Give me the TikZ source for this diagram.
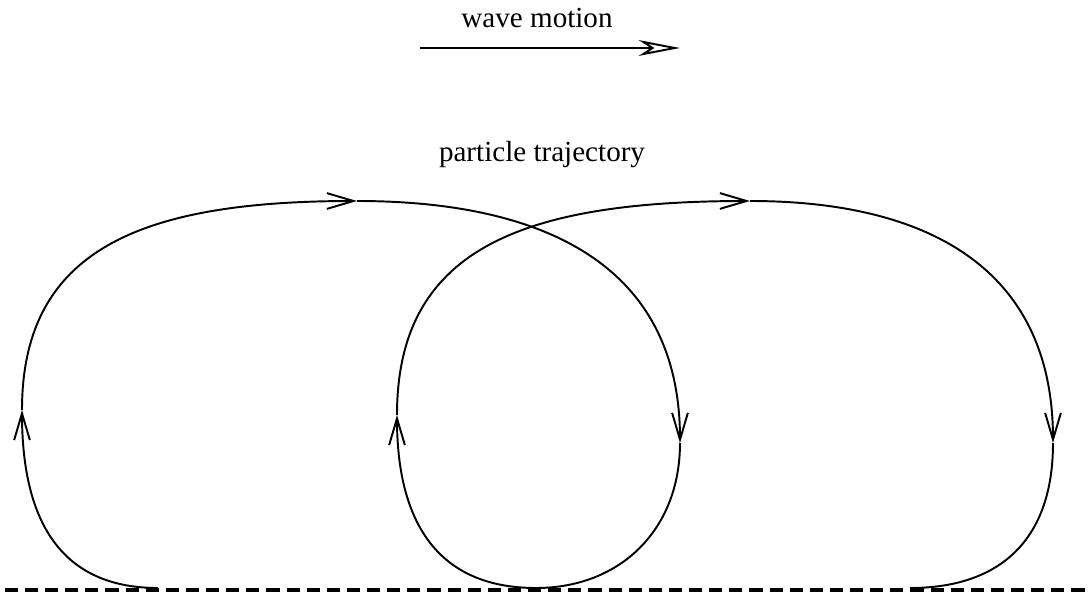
\documentclass[tikz,border=0pt]{standalone}
\usepackage{fontspec}
\setmainfont{Liberation Serif}
\usetikzlibrary{arrows.meta}

\begin{document}
\begin{tikzpicture}[x=0.0145cm,y=-0.0145cm,
  traj/.style={line width=0.8pt},
  trajarrow/.style={traj,-{Straight Barb[length=11pt,width=6.5pt]}},
  ground/.style={line width=1.6pt,dash pattern=on 5.4pt off 2.9pt,dash phase=-2pt},
  lbl/.style={font=\large,inner sep=0pt}]
\path[use as bounding box] (0,0) rectangle (1091,597);
% still water level
\coordinate (gl) at (0,590);
\coordinate (gr) at (1091,590);
\draw[ground] (gl) -- (gr);
% direction of the wave
\node[lbl,anchor=base] (wave) at (537,27) {wave motion};
\coordinate (wstart) at (420,48);
\coordinate (wend) at (680,48);
\draw[line width=1.2pt,-{Stealth[open,length=17pt,width=6.5pt,inset=5pt,line width=0.8pt]}] (wstart) -- (wend);
\node[lbl,anchor=base] (trajtext) at (542,162) {particle trajectory};
% first loop
\coordinate (bot0) at (158,588);
\coordinate (left1) at (22,410);
\coordinate (top1) at (357,201);
\coordinate (right1) at (680,443);
\coordinate (bot1) at (536,588);
\draw[trajarrow] (bot0) .. controls (60,588) and (22,520) .. (left1);
\draw[trajarrow] (left1) .. controls (22,250) and (140,201) .. (top1);
\draw[trajarrow] (top1) .. controls (520,201) and (680,250) .. (right1);
\draw[traj] (right1) .. controls (680,530) and (620,588) .. (bot1);
% second loop
\coordinate (left2) at (397,415);
\coordinate (top2) at (750,201);
\coordinate (right2) at (1053,443);
\coordinate (bot2) at (910,588);
\draw[trajarrow] (bot1) .. controls (436,588) and (397,520) .. (left2);
\draw[trajarrow] (left2) .. controls (397,250) and (520,201) .. (top2);
\draw[trajarrow] (top2) .. controls (930,201) and (1053,270) .. (right2);
\draw[traj] (right2) .. controls (1053,540) and (1000,588) .. (bot2);
\end{tikzpicture}
\end{document}
